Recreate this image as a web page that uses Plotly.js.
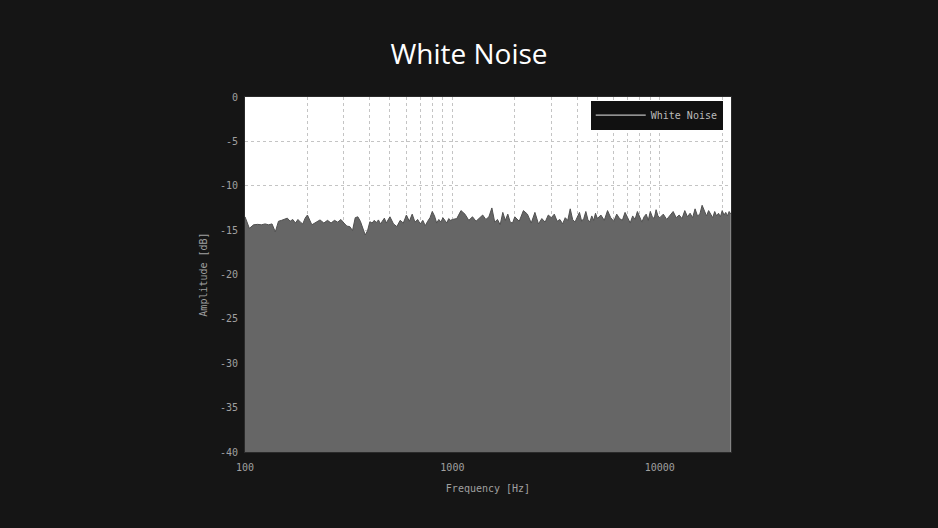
<!DOCTYPE html>
<html>
<head>
<meta charset="utf-8">
<script src="https://cdn.plot.ly/plotly-3.0.1.min.js"></script>
<style>
html,body{margin:0;padding:0;background:#151515;}
#chart{width:938px;height:528px;}
</style>
</head>
<body>
<div id="chart"></div>
<script>
// Frequency bins (Hz) and level (dB)
const freqHz = [
  100,105,110,115,120,125,130,135,140,145,150,155,160,165,170,175,180,185,190,195,200,
  210,220,230,240,250,260,270,280,290,300,310,320,330,340,350,360,370,380,390,400,
  410,420,430,440,450,460,470,480,490,500,
  520,540,560,580,600,620,640,660,680,700,720,740,760,780,800,820,840,860,880,900,
  920,940,960,980,1000,
  1050,1100,1150,1200,1250,1300,1350,1400,1450,1500,1550,1600,1650,1700,1750,1800,
  1850,1900,1950,2000,
  2100,2200,2300,2400,2500,2600,2700,2800,2900,3000,3100,3200,3300,3400,3500,3600,
  3700,3800,3900,4000,4100,4200,4300,4400,4500,4600,4700,4800,4900,5000,
  5200,5400,5600,5800,6000,6200,6400,6600,6800,7000,7200,7400,7600,7800,8000,8200,
  8400,8600,8800,9000,9200,9400,9600,9800,10000,
  10400,10800,11200,11600,12000,12400,12800,13200,13600,14000,14400,14800,15200,
  15600,16000,16400,16800,17200,17600,18000,18400,18800,19200,19600,20000,20400,
  20800,21200,21600,22000
];
const levelDb = [
  -13.5,-14.8,-14.4,-14.35,-14.4,-14.3,-14.4,-14.3,-15.2,-14.0,-13.9,-13.8,-13.65,-14.0,-13.8,-14.2,-13.8,-14.1,-14.3,-13.65,-13.3,
  -14.4,-14.15,-13.85,-14.2,-13.9,-14.2,-13.9,-14.1,-13.8,-14.2,-14.55,-14.6,-15.05,-13.6,-13.5,-14.0,-14.7,-15.55,-15.05,-14.05,
  -14.2,-13.9,-14.15,-13.85,-14.3,-13.9,-13.65,-14.2,-13.85,-13.5,
  -14.3,-14.6,-13.9,-14.2,-13.3,-14.0,-13.2,-14.1,-13.8,-14.3,-13.9,-14.5,-14.0,-13.6,-12.9,-13.4,-14.2,-13.8,-14.1,-13.6,
  -13.9,-14.2,-13.7,-13.9,-13.8,
  -13.7,-12.8,-13.2,-13.9,-13.5,-14.0,-13.6,-13.3,-13.8,-13.5,-12.5,-14.1,-13.8,-14.4,-13.0,-13.9,
  -13.2,-14.1,-14.2,-13.5,
  -14.0,-12.8,-13.2,-14.2,-13.0,-14.3,-13.7,-14.1,-13.3,-13.6,-13.2,-14.0,-13.8,-14.3,-13.6,-13.9,
  -12.6,-13.8,-14.1,-13.5,-13.0,-14.0,-13.7,-12.9,-13.8,-14.1,-13.4,-13.9,-13.1,-13.7,
  -13.3,-13.9,-12.8,-13.6,-14.0,-13.2,-13.7,-13.9,-13.0,-13.6,-14.2,-13.4,-13.8,-12.9,-13.6,-14.1,
  -13.5,-13.2,-13.9,-12.9,-13.5,-13.7,-12.7,-13.4,-13.6,
  -13.2,-13.8,-13.4,-12.9,-13.6,-13.3,-13.7,-12.8,-13.5,-13.1,-13.6,-12.6,-13.4,
  -13.2,-12.2,-12.9,-13.4,-12.8,-13.3,-13.6,-12.9,-13.4,-13.1,-13.5,-12.8,-13.3,
  -13.0,-13.4,-12.9,-13.2
];
const floorDb = -40;
const xTickVals = [100,200,300,400,500,600,700,800,900,1000,2000,3000,4000,5000,6000,7000,8000,9000,10000,20000];
const xTickText = ['100','','','','','','','','','1000','','','','','','','','','10000',''];
const yTickVals = [0,-5,-10,-15,-20,-25,-30,-35,-40];
const yTickText = ['0','-5','-10','-15','-20','-25','-30','-35','-40'];

const baseline = {
  x: freqHz, y: freqHz.map(() => floorDb),
  type: 'scatter', mode: 'lines', line: {width: 0, color: 'rgba(0,0,0,0)'},
  showlegend: false, hoverinfo: 'skip'
};
const noise = {
  x: freqHz, y: levelDb, name: 'White Noise', showlegend: false,
  type: 'scatter', mode: 'lines', fill: 'tonexty',
  fillcolor: '#666666', line: {color: '#505050', width: 1}
};
// legend-only entry (line sample, as in the reference legend)
const legendEntry = {
  x: [null], y: [null], name: 'White Noise',
  type: 'scatter', mode: 'lines', line: {color: '#bdbdbd', width: 1.2}
};

const axisFont = {family: 'DejaVu Sans Mono, monospace', size: 10, color: '#a0a0a0'};
const layout = {
  width: 938, height: 528,
  paper_bgcolor: '#151515', plot_bgcolor: '#ffffff',
  margin: {l: 245, r: 207, t: 97, b: 76},
  title: {text: 'White Noise', x: 0.5, xanchor: 'center', y: 1 - 54/528, yanchor: 'middle',
          font: {family: 'Open Sans, sans-serif', size: 28, color: '#ffffff'}},
  xaxis: {
    type: 'log', range: [2, Math.log10(22050)],
    tickvals: xTickVals, ticktext: xTickText, tickfont: axisFont,
    showgrid: true, gridcolor: '#c4c4c4', griddash: 'dot', gridwidth: 1,
    zeroline: false, showline: true, linecolor: '#2a2a2a', mirror: true,
    ticks: '', ticklabelstandoff: 6,
    title: {text: 'Frequency [Hz]', font: axisFont, standoff: 12}
  },
  yaxis: {
    range: [-40, 0], tickvals: yTickVals, ticktext: yTickText, tickfont: axisFont,
    showgrid: true, gridcolor: '#c4c4c4', griddash: 'dot', gridwidth: 1,
    zeroline: false, showline: true, linecolor: '#2a2a2a', mirror: true,
    ticks: '', ticklabelstandoff: 4,
    title: {text: 'Amplitude [dB]', font: axisFont, standoff: 10}
  },
  legend: {x: 0.983, y: 0.99, xanchor: 'right', yanchor: 'top',
           bgcolor: '#111111', borderwidth: 0, itemwidth: 50,
           font: {family: 'DejaVu Sans Mono, monospace', size: 10, color: '#bbbbbb'}},
  showlegend: true
};
Plotly.newPlot('chart', [baseline, noise, legendEntry], layout, {displayModeBar: false, staticPlot: true});
</script>
</body>
</html>
